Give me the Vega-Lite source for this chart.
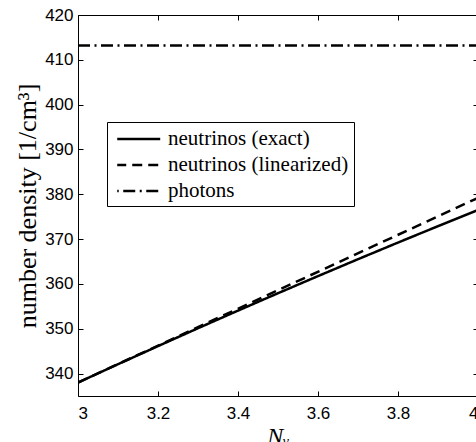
{
  "$schema": "https://vega.github.io/schema/vega-lite/v6.json",
  "autosize": {"type": "none"},
  "padding": {"left": 78, "top": 15, "right": 0, "bottom": 46},
  "width": 400,
  "height": 381,
  "background": "white",
  "config": {
    "view": {"stroke": "black", "strokeWidth": 1},
    "axis": {"grid": false, "domain": false, "tickColor": "black", "tickSize": -5, "labelFont": "Liberation Sans", "labelFontSize": 17, "labelColor": "black"},
    "legend": {"labelFont": "Liberation Serif", "labelFontSize": 21, "labelColor": "black"}
  },
  "data": {"values": [
    {"N": 3.0, "n": 338.0, "series": "neutrinos (exact)"},
    {"N": 3.1, "n": 342.09, "series": "neutrinos (exact)"},
    {"N": 3.2, "n": 346.13, "series": "neutrinos (exact)"},
    {"N": 3.3, "n": 350.12, "series": "neutrinos (exact)"},
    {"N": 3.4, "n": 354.05, "series": "neutrinos (exact)"},
    {"N": 3.5, "n": 357.93, "series": "neutrinos (exact)"},
    {"N": 3.6, "n": 361.75, "series": "neutrinos (exact)"},
    {"N": 3.7, "n": 365.52, "series": "neutrinos (exact)"},
    {"N": 3.8, "n": 369.23, "series": "neutrinos (exact)"},
    {"N": 3.9, "n": 372.89, "series": "neutrinos (exact)"},
    {"N": 4.0, "n": 376.5, "series": "neutrinos (exact)"},
    {"N": 3.0, "n": 338.0, "series": "neutrinos (linearized)"},
    {"N": 3.5, "n": 358.6, "series": "neutrinos (linearized)"},
    {"N": 4.0, "n": 379.2, "series": "neutrinos (linearized)"},
    {"N": 3.0, "n": 413.2, "series": "photons"},
    {"N": 4.0, "n": 413.2, "series": "photons"}
  ]},
  "layer": [
    {
      "mark": {"type": "line", "color": "black", "strokeWidth": 2.5, "clip": true},
      "encoding": {
        "x": {"field": "N", "type": "quantitative", "scale": {"domain": [3, 4], "nice": false, "zero": false},
              "axis": {"orient": "bottom", "values": [3, 3.2, 3.4, 3.6, 3.8, 4], "format": "~g", "labelPadding": 14,
                       "title": "Nᵥ", "titleFont": "Liberation Serif", "titleFontStyle": "italic", "titleFontWeight": "normal", "titleFontSize": 24, "titlePadding": 3, "titleColor": "black"}},
        "y": {"field": "n", "type": "quantitative", "scale": {"domain": [335, 420], "nice": false, "zero": false},
              "axis": {"orient": "left", "values": [340, 350, 360, 370, 380, 390, 400, 410, 420], "labelPadding": 10,
                       "title": "number density [1/cm³]", "titleFont": "Liberation Serif", "titleFontWeight": "normal", "titleFontSize": 26, "titlePadding": 4, "titleColor": "black"}},
        "strokeDash": {"field": "series", "type": "nominal",
          "scale": {"domain": ["neutrinos (exact)", "neutrinos (linearized)", "photons"], "range": [[1, 0], [10, 6], [12, 4.5, 2, 4.5]]},
          "legend": {"orient": "none", "legendX": 29, "legendY": 107, "title": null, "strokeColor": "black", "fillColor": "white",
                     "padding": 5, "symbolType": "M-0.63,0H3.37", "symbolSize": 462, "symbolStrokeWidth": 2.5, "symbolStrokeColor": "black",
                     "symbolFillColor": "transparent", "symbolDashOffset": 17,
                     "labelFont": "Liberation Serif", "labelFontSize": 21, "labelColor": "black", "labelLimit": 400, "rowPadding": 4, "labelOffset": 32}}
      }
    },
    {
      "mark": {"type": "line", "opacity": 0},
      "encoding": {
        "x": {"field": "N", "type": "quantitative", "axis": {"orient": "top", "values": [3, 3.2, 3.4, 3.6, 3.8, 4], "labels": false, "title": null}},
        "y": {"field": "n", "type": "quantitative", "axis": {"orient": "right", "values": [340, 350, 360, 370, 380, 390, 400, 410, 420], "labels": false, "title": null}},
        "detail": {"field": "series", "type": "nominal"}
      }
    }
  ],
  "resolve": {"axis": {"x": "independent", "y": "independent"}}
}
